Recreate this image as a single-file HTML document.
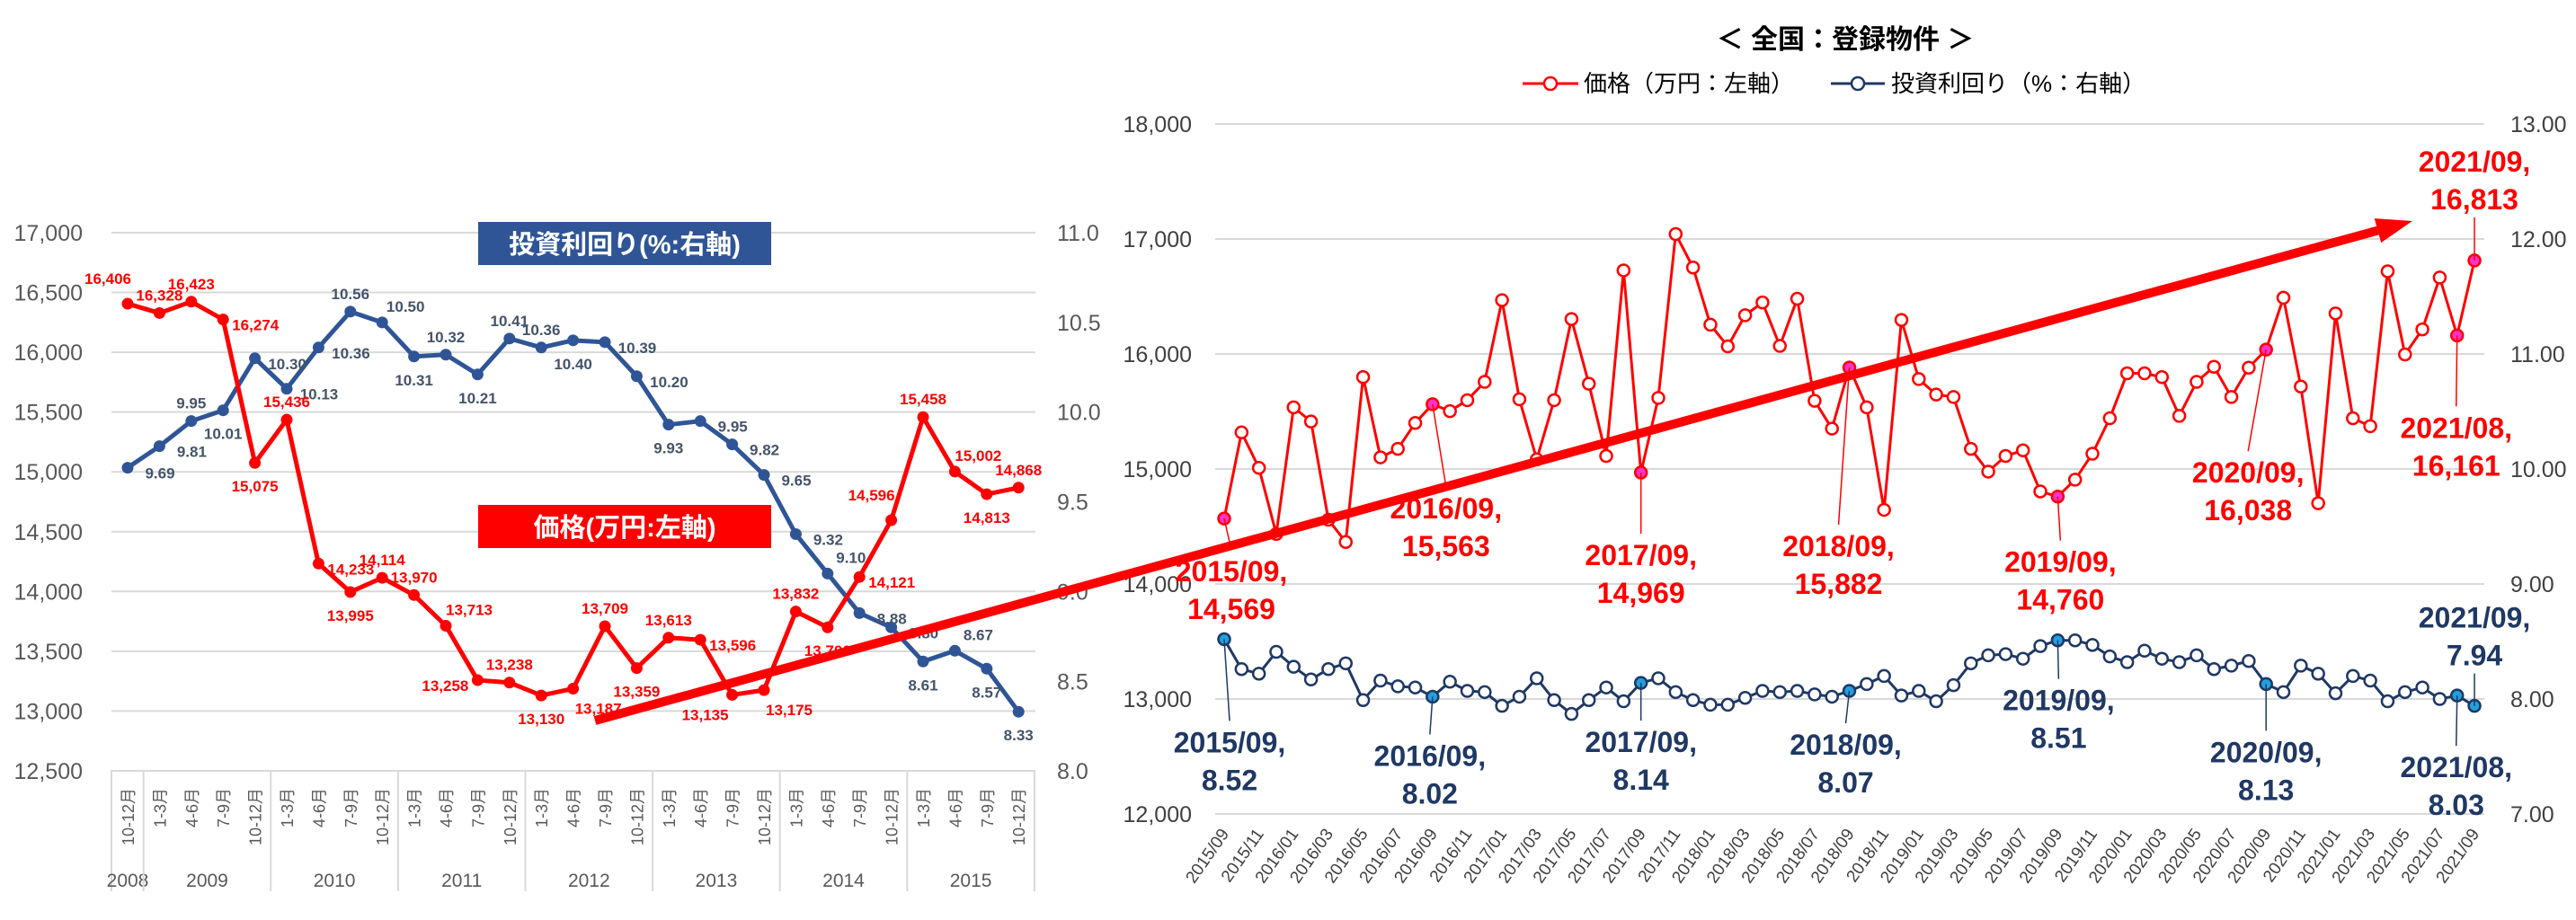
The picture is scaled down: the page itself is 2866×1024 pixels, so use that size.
<!DOCTYPE html>
<html><head><meta charset="utf-8">
<style>
html,body{margin:0;padding:0;background:#fff;}
svg{display:block;font-family:"Liberation Sans","Noto Sans CJK JP",sans-serif;}
</style></head>
<body>
<svg id="chart" width="2866" height="1024" viewBox="0 0 2866 1024" xmlns="http://www.w3.org/2000/svg">
<rect width="2866" height="1024" fill="#fff"/>
<g id="left"></g>
<g id="right"></g>
<g id="arrowg"></g>
</svg>
<script>
// ---------- LEFT CHART DATA ----------
const leftCats = ['10-12月','1-3月','4-6月','7-9月','10-12月','1-3月','4-6月','7-9月','10-12月','1-3月','4-6月','7-9月','10-12月','1-3月','4-6月','7-9月','10-12月','1-3月','4-6月','7-9月','10-12月','1-3月','4-6月','7-9月','10-12月','1-3月','4-6月','7-9月','10-12月'];
const leftYears = ['2008','2009','2010','2011','2012','2013','2014','2015'];
const leftYearSpan = [1,4,4,4,4,4,4,4];
const leftPrice = [16406,16328,16423,16274,15075,15436,14233,13995,14114,13970,13713,13258,13238,13130,13187,13709,13359,13613,13596,13135,13175,13832,13700,14121,14596,15458,15002,14813,14868];
const leftYield = [9.69,9.81,9.95,10.01,10.30,10.13,10.36,10.56,10.50,10.31,10.32,10.21,10.41,10.36,10.40,10.39,10.20,9.93,9.95,9.82,9.65,9.32,9.10,8.88,8.80,8.61,8.67,8.57,8.33];
const leftPriceTicks = [17000,16500,16000,15500,15000,14500,14000,13500,13000,12500];
const leftYieldTicks = [11.0,10.5,10.0,9.5,9.0,8.5,8.0];
const leftPriceLbl = ['al','a','a','r','b','a','r','b','a','a','ar','l','a','b','br','a','b','a','r','bl','br','a','b','r','al','a','ar','b','a'];
const leftYieldLbl = ['r','r','a','b','r','r','r','a','ar','b','a','b','a','a','b','r','r','b','r','r','r','r','ar','r','r','b','ar','b','b'];

// ---------- RIGHT CHART DATA ----------
const rightMonths = [];
for (let k = 0; k < 73; k++) { const m = 8 + k; const y = 2015 + Math.floor(m / 12); const mm = (m % 12) + 1; rightMonths.push(y + '/' + (mm < 10 ? '0' + mm : mm)); }
const rightPrice = [14569,15318,15010,14435,15536,15413,14559,14365,15799,15101,15175,15400,15563,15503,15598,15758,16468,15606,15084,15598,16304,15741,15113,16727,14969,15618,17043,16752,16255,16066,16337,16448,16070,16480,15593,15351,15882,15536,14645,16296,15782,15647,15626,15175,14977,15113,15162,14805,14760,14907,15133,15441,15832,15832,15799,15462,15758,15889,15626,15881,16038,16489,15717,14702,16353,15441,15372,16719,15996,16214,16665,16161,16813];
const rightYield = [8.52,8.26,8.22,8.41,8.28,8.17,8.26,8.31,7.99,8.16,8.11,8.10,8.02,8.15,8.07,8.06,7.94,8.02,8.18,7.99,7.87,7.99,8.10,7.98,8.14,8.18,8.06,7.99,7.95,7.95,8.01,8.07,8.06,8.07,8.04,8.02,8.07,8.13,8.20,8.03,8.07,7.98,8.12,8.31,8.38,8.39,8.35,8.46,8.51,8.51,8.47,8.37,8.32,8.42,8.35,8.32,8.38,8.26,8.29,8.33,8.13,8.06,8.29,8.22,8.05,8.20,8.16,7.98,8.06,8.10,8.00,8.03,7.94];
const rightPriceTicks = [18000,17000,16000,15000,14000,13000,12000];
const rightYieldTicks = [13,12,11,10,9,8,7];
const calloutIdx = [0,12,24,36,48,60,71,72];
const priceCalloutOff = [[8,59],[15,116],[0,92],[-12,199],[3,73],[-20,137],[-1,103],[0,-110]];
const yieldCalloutOff = [[6,115],[-3,66],[0,66],[-4,60],[1,67],[0,76],[-1,80],[0,-98]];

const NS = 'http://www.w3.org/2000/svg';
function mk(tag, attrs, parent, text) {
  const e = document.createElementNS(NS, tag);
  for (const k in attrs) e.setAttribute(k, attrs[k]);
  if (text !== undefined) e.textContent = text;
  parent.appendChild(e);
  return e;
}
function fmt(v){ return v.toLocaleString('en-US'); }

// ---------- LEFT CHART ----------
const L = document.getElementById('left');
const lx = i => 142 + i * 35.4;
const lyP = v => 259 + (17000 - v) * 0.1331;
const lyY = v => 259 + (11 - v) * 199.7;
leftPriceTicks.forEach(t => {
  const g = mk('line', {x1:124, x2:1152, y1:lyP(t), y2:lyP(t), stroke:'#d9d9d9', 'stroke-width':2}, L);
  
  
  const tx = mk('text', {x:92, y:lyP(t)+9, 'text-anchor':'end', 'font-size':25, fill:'#595959'}, L, fmt(t));
  
  
});
leftYieldTicks.forEach(t => {
  const tx = mk('text', {x:1176, y:lyY(t)+9, 'font-size':25, fill:'#595959'}, L, t.toFixed(1));
  
  
});
// category labels
leftCats.forEach((c, i) => {
  const t = mk('text', {transform:'translate(' + (lx(i)+7) + ',877) rotate(-90)', 'text-anchor':'end', 'font-size':18, fill:'#595959'}, L, c);
  
  
});
// year groups
let ci = 0;
const sep0 = mk('line', {x1:124, x2:124, y1:857, y2:992, stroke:'#d9d9d9', 'stroke-width':2}, L);


leftYears.forEach((y, k) => {
  const a = lx(ci) - 17.7, b = lx(ci + leftYearSpan[k] - 1) + 17.7;
  const t = mk('text', {x:(a+b)/2, y:987, 'text-anchor':'middle', 'font-size':21, fill:'#595959'}, L, y);
  
  
  const s = mk('line', {x1:b, x2:b, y1:857, y2:992, stroke:'#d9d9d9', 'stroke-width':2}, L);
  
  
  ci += leftYearSpan[k];
});
// series lines
const bluePath = mk('polyline', {points:leftYield.map((v,i)=>lx(i)+','+lyY(v)).join(' '), fill:'none', stroke:'#2f5597', 'stroke-width':5, 'stroke-linejoin':'round'}, L);


const redPath = mk('polyline', {points:leftPrice.map((v,i)=>lx(i)+','+lyP(v)).join(' '), fill:'none', stroke:'#ff0000', 'stroke-width':5, 'stroke-linejoin':'round'}, L);


const off = {a:[0,-20], b:[0,26], r:[36,6], l:[-36,6], ar:[26,-18], al:[-22,-28], br:[28,22], bl:[-30,22]};
leftYield.forEach((v,i) => {
  const c = mk('circle', {cx:lx(i), cy:lyY(v), r:6.5, fill:'#2f5597'}, L);
  
  
  const o = off[leftYieldLbl[i]];
  const t = mk('text', {x:lx(i)+o[0], y:lyY(v)+o[1]+6, 'text-anchor':'middle', 'font-size':17, 'font-weight':'bold', fill:'#44546a'}, L, v.toFixed(2));
  
  
});
leftPrice.forEach((v,i) => {
  const c = mk('circle', {cx:lx(i), cy:lyP(v), r:6.5, fill:'#ff0000'}, L);
  
  
  const o = off[leftPriceLbl[i]];
  const t = mk('text', {x:lx(i)+o[0], y:lyP(v)+o[1]+6, 'text-anchor':'middle', 'font-size':17, 'font-weight':'bold', fill:'#ff0000'}, L, fmt(v));
  
  
});
// boxes
const bb = mk('rect', {x:532, y:247, width:326, height:48, fill:'#2f5597'}, L);


const bt = mk('text', {x:695, y:282, 'text-anchor':'middle', 'font-size':29, 'font-weight':'bold', fill:'#fff'}, L, '投資利回り(%:右軸)');


const rb = mk('rect', {x:532, y:562, width:326, height:48, fill:'#ff0000'}, L);


const rt = mk('text', {x:695, y:597, 'text-anchor':'middle', 'font-size':29, 'font-weight':'bold', fill:'#fff'}, L, '価格(万円:左軸)');



// ---------- RIGHT CHART ----------
const R = document.getElementById('right');
const rx = i => 1362 + i * 19.32;
const ryP = v => 138 + (18000 - v) * 0.128;
const ryY = v => 138 + (13 - v) * 128;
const title = mk('text', {x:2053, y:54, 'text-anchor':'middle', 'font-size':30, 'font-weight':'bold', fill:'#000'}, R, '＜ 全国：登録物件 ＞');


// legend
const lg1 = mk('g', {}, R);


mk('line', {x1:1694, x2:1756, y1:93, y2:93, stroke:'#ff0000', 'stroke-width':3}, lg1);
mk('circle', {cx:1725, cy:93, r:7, fill:'#fff', stroke:'#ff0000', 'stroke-width':2.5}, lg1);
mk('text', {x:1762, y:102, 'font-size':26, fill:'#000'}, lg1, '価格（万円：左軸）');
const lg2 = mk('g', {}, R);


mk('line', {x1:2037, x2:2097, y1:93, y2:93, stroke:'#1f3864', 'stroke-width':3}, lg2);
mk('circle', {cx:2067, cy:93, r:7, fill:'#fff', stroke:'#1f3864', 'stroke-width':2.5}, lg2);
mk('text', {x:2104, y:102, 'font-size':26, fill:'#000'}, lg2, '投資利回り（%：右軸）');

rightPriceTicks.forEach(t => {
  const g = mk('line', {x1:1352, x2:2764, y1:ryP(t), y2:ryP(t), stroke:'#d9d9d9', 'stroke-width':2}, R);
  
  
  const tx = mk('text', {x:1326, y:ryP(t)+9, 'text-anchor':'end', 'font-size':25, fill:'#404040'}, R, fmt(t));
  
  
});
rightYieldTicks.forEach(t => {
  const tx = mk('text', {x:2793, y:ryY(t)+9, 'font-size':25, fill:'#404040'}, R, t.toFixed(2));
  
  
});
rightMonths.forEach((m, i) => {
  if (i % 2) return;
  const t = mk('text', {transform:'translate(' + (rx(i)+6) + ',928) rotate(-55)', 'text-anchor':'end', 'font-size':19, fill:'#404040'}, R, m);
  
  
});
const rp = mk('polyline', {points:rightPrice.map((v,i)=>rx(i)+','+ryP(v)).join(' '), fill:'none', stroke:'#ff0000', 'stroke-width':3, 'stroke-linejoin':'round'}, R);


const ryl = mk('polyline', {points:rightYield.map((v,i)=>rx(i)+','+ryY(v)).join(' '), fill:'none', stroke:'#1f3864', 'stroke-width':3, 'stroke-linejoin':'round'}, R);


rightPrice.forEach((v,i) => {
  const hl = calloutIdx.indexOf(i) >= 0;
  const c = mk('circle', {cx:rx(i), cy:ryP(v), r:6.5, fill:hl?'#ff33cc':'#fff', stroke:'#ff0000', 'stroke-width':2.5}, R);
  
  
});
rightYield.forEach((v,i) => {
  const hl = calloutIdx.indexOf(i) >= 0;
  const c = mk('circle', {cx:rx(i), cy:ryY(v), r:6.5, fill:hl?'#21a0dd':'#fff', stroke:'#1f3864', 'stroke-width':2.5}, R);
  
  
});
function callout(i, yv, o, txt2, color, name) {
  const px = rx(i), py = yv;
  const cx = px + o[0], y1 = py + o[1];
  const ly = o[1] > 0 ? y1 - 24 : y1 + 62;
  const ln = mk('line', {x1:px, y1:py, x2:cx, y2:ly, stroke:color, 'stroke-width':1.5}, R);
  
  
  const t = mk('text', {x:cx, y:y1+11, 'text-anchor':'middle', 'font-size':32, 'font-weight':'bold', fill:color}, R);
  
  
  mk('tspan', {x:cx, dy:0}, t, rightMonths[i] + ',');
  mk('tspan', {x:cx, dy:42}, t, txt2);
}
calloutIdx.forEach((i, k) => {
  callout(i, ryP(rightPrice[i]), priceCalloutOff[k], fmt(rightPrice[i]), '#ff0000', 'price-callout');
  callout(i, ryY(rightYield[i]), yieldCalloutOff[k], rightYield[i].toFixed(2), '#1f3864', 'yield-callout');
});

// ---------- ARROW ----------
const A = document.getElementById('arrowg');
const ax1 = 662, ay1 = 802, ax2 = 2684, ay2 = 246;
const ang = Math.atan2(ay2 - ay1, ax2 - ax1);
const hl = 40, hw = 14;
const bx = ax2 - hl * Math.cos(ang), by = ay2 - hl * Math.sin(ang);
const al = mk('line', {x1:ax1, y1:ay1, x2:bx, y2:by, stroke:'#ff0000', 'stroke-width':10}, A);


const ah = mk('polygon', {points:[ax2+','+ay2, (bx - hw*Math.sin(ang))+','+(by + hw*Math.cos(ang)), (bx + hw*Math.sin(ang))+','+(by - hw*Math.cos(ang))].join(' '), fill:'#ff0000'}, A);


</script>
</body></html>
